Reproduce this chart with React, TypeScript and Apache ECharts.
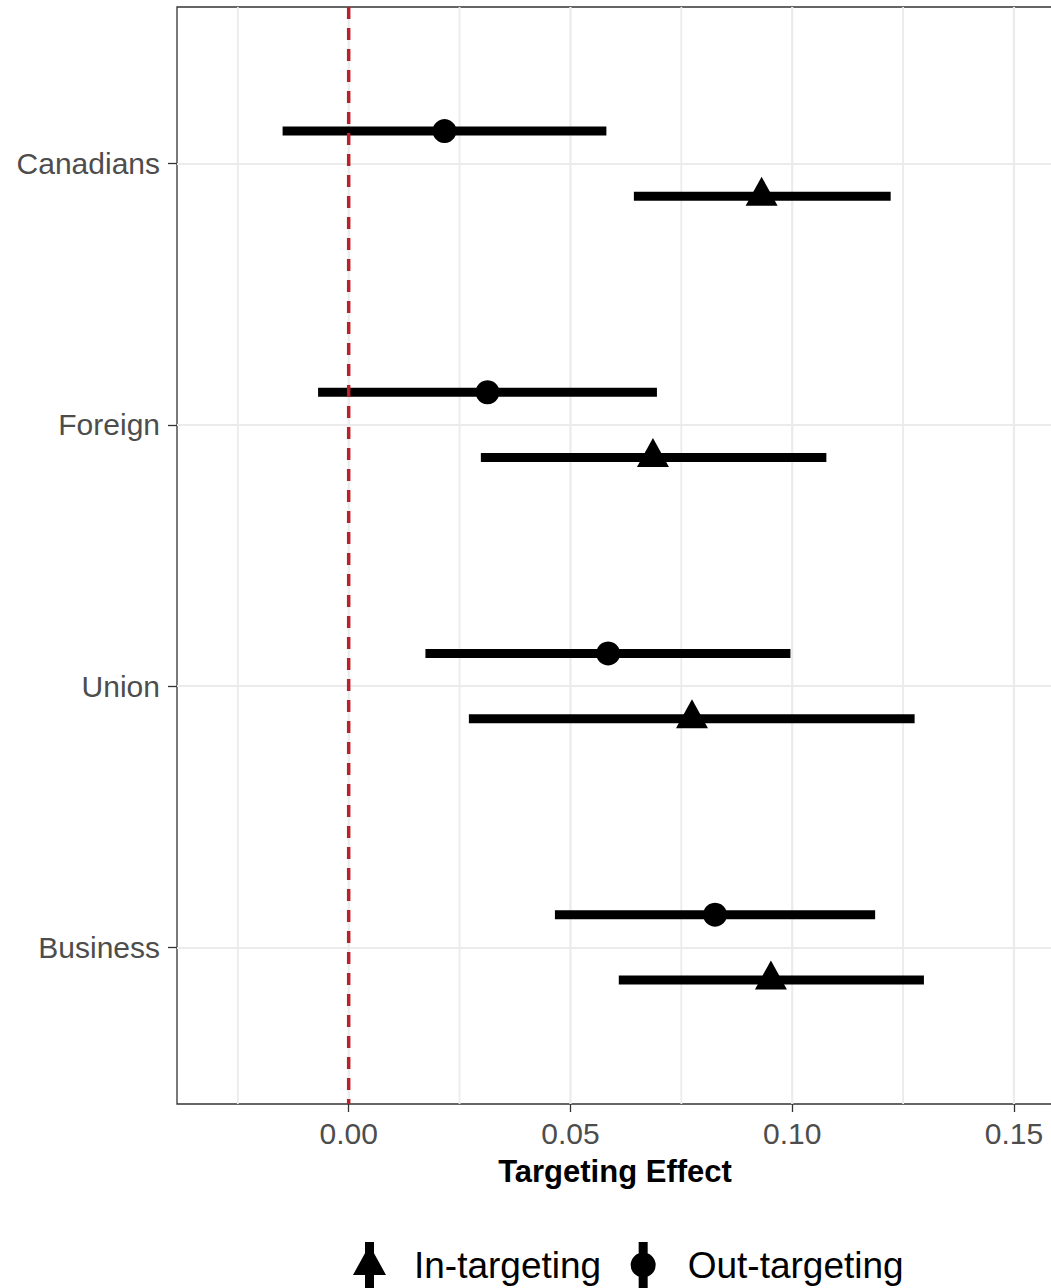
import React, { useEffect, useRef } from "react";
import * as echarts from "echarts";

const categories = ["Canadians", "Foreign", "Union", "Business"];
const catPos = [4, 3, 2, 1];
const outEst = [0.0216, 0.0313, 0.0585, 0.0826];
const outLow = [-0.0149, -0.0069, 0.0173, 0.0465];
const outHigh = [0.0581, 0.0695, 0.0996, 0.1187];
const inEst = [0.0931, 0.0686, 0.0774, 0.0952];
const inLow = [0.0643, 0.0298, 0.0271, 0.0609];
const inHigh = [0.1222, 0.1077, 0.1276, 0.1297];
const xTicks = [0, 0.05, 0.1, 0.15];
const xMinor = [-0.025, 0.025, 0.075, 0.125];
const refLine = [0];
const dodge = 0.125;

const X_MIN = -0.03871;
const X_MAX = 0.1588;
const Y_MIN = 0.4;
const Y_MAX = 4.6;
const FONT = "'Liberation Sans', Arial, Helvetica, sans-serif";

const triIcon = "path://M12 0 L21 0 L21 46 L12 46 Z M16.5 3 L33 33 L0 33 Z";
const circIcon =
  "path://M8 0 L17 0 L17 46 L8 46 Z M0 23 A12.5 12.5 0 1 1 25 23 A12.5 12.5 0 1 1 0 23 Z";

export default function App() {
  const ref = useRef<HTMLDivElement>(null);
  useEffect(() => {
    if (!ref.current) return;
    const chart = echarts.init(ref.current, null, { renderer: "svg" });
    const outBars = categories.map((_, i) => [outLow[i], outHigh[i], catPos[i] + dodge]);
    const inBars = categories.map((_, i) => [inLow[i], inHigh[i], catPos[i] - dodge]);
    const outPts = categories.map((_, i) => [outEst[i], catPos[i] + dodge]);
    const inPts = categories.map((_, i) => [inEst[i], catPos[i] - dodge]);
    const renderBar = (params: any, api: any) => {
      const y = api.value(2);
      const p1 = api.coord([api.value(0), y]);
      const p2 = api.coord([api.value(1), y]);
      return {
        type: "line",
        shape: { x1: p1[0], y1: p1[1], x2: p2[0], y2: p2[1] },
        style: { stroke: "#000", lineWidth: 9, lineCap: "butt" },
      };
    };
    const vLine = (stroke: string, width: number, dash?: number[]) => (params: any, api: any) => {
      const x = api.value(0);
      const p1 = api.coord([x, Y_MAX]);
      const p2 = api.coord([x, Y_MIN]);
      return {
        type: "line",
        shape: { x1: p1[0], y1: p1[1], x2: p2[0], y2: p2[1] },
        style: { stroke, lineWidth: width, lineDash: dash, lineCap: "butt" },
      };
    };
    const option: any = {
      animation: false,
      backgroundColor: "#fff",
      color: ["#000", "#000"],
      textStyle: { fontFamily: FONT },
      grid: {
        left: 177,
        top: 7,
        width: 876,
        height: 1097,
        show: true,
        borderColor: "#333333",
        borderWidth: 1.3,
        backgroundColor: "transparent",
      },
      xAxis: {
        type: "value",
        min: X_MIN,
        max: X_MAX,
        axisLine: { show: false, onZero: false },
        axisTick: {
          show: true,
          length: 8,
          customValues: xTicks,
          lineStyle: { color: "#333333", width: 1.3 },
        },
        axisLabel: {
          customValues: xTicks,
          formatter: (v: number) => v.toFixed(2),
          fontSize: 30,
          color: "#4D4D4D",
          margin: 14,
          fontFamily: FONT,
        },
        splitLine: { show: false },
        name: "Targeting Effect",
        nameLocation: "middle",
        nameGap: 52,
        nameTextStyle: { fontSize: 31, fontWeight: "bold", color: "#000", fontFamily: FONT },
      },
      yAxis: {
        type: "value",
        min: Y_MIN,
        max: Y_MAX,
        axisLine: { show: false, onZero: false },
        axisTick: {
          show: true,
          length: 9,
          customValues: catPos,
          lineStyle: { color: "#333333", width: 1.3 },
        },
        axisLabel: {
          customValues: catPos,
          formatter: (v: number) => {
            const i = catPos.indexOf(Math.round(v));
            return i >= 0 ? categories[i] : "";
          },
          fontSize: 30,
          color: "#4D4D4D",
          margin: 17,
          fontFamily: FONT,
        },
        splitLine: { show: true, lineStyle: { color: "#EBEBEB", width: 2.2 } },
      },
      legend: {
        left: 353,
        top: 1242,
        padding: 0,
        orient: "horizontal",
        itemWidth: 33,
        itemHeight: 46,
        itemGap: 29.5,
        symbolKeepAspect: true,
        selectedMode: false,
        textStyle: { fontSize: 37, color: "#000", fontFamily: FONT, padding: [0, 0, 0, 23] },
        data: [
          { name: "In-targeting", icon: triIcon },
          { name: "Out-targeting", icon: circIcon },
        ],
      },
      series: [
        {
          type: "custom",
          name: "grid-minor",
          renderItem: vLine("#EBEBEB", 1.8),
          data: xMinor.map((v) => [v]),
          encode: { x: 0 },
          silent: true,
          z: 0,
        },
        {
          type: "custom",
          name: "grid-major",
          renderItem: vLine("#EBEBEB", 2.2),
          data: xTicks.map((v) => [v]),
          encode: { x: 0 },
          silent: true,
          z: 0,
        },
        {
          type: "custom",
          name: "In-targeting",
          renderItem: renderBar,
          data: inBars,
          encode: { x: [0, 1], y: 2 },
          z: 2,
          itemStyle: { color: "#000" },
        },
        {
          type: "custom",
          name: "Out-targeting",
          renderItem: renderBar,
          data: outBars,
          encode: { x: [0, 1], y: 2 },
          z: 2,
          itemStyle: { color: "#000" },
        },
        {
          type: "scatter",
          name: "In-targeting",
          data: inPts,
          symbol: "triangle",
          symbolSize: [32, 29],
          symbolOffset: [0, -5],
          itemStyle: { color: "#000", opacity: 1 },
          z: 3,
        },
        {
          type: "scatter",
          name: "Out-targeting",
          data: outPts,
          symbol: "circle",
          symbolSize: 24,
          itemStyle: { color: "#000", opacity: 1 },
          z: 3,
        },
        {
          type: "custom",
          name: "ref-line",
          renderItem: vLine("#B8202A", 3.5, [12, 9]),
          data: refLine.map((v) => [v]),
          encode: { x: 0 },
          silent: true,
          z: 10,
        },
      ],
    };
    chart.setOption(option);
    return () => chart.dispose();
  }, []);
  return (
    <div
      style={{
        position: "fixed",
        left: 0,
        top: 0,
        width: 1051,
        height: 1288,
        overflow: "hidden",
        background: "#fff",
      }}
    >
      <div ref={ref} style={{ width: 1060, height: 1288 }} />
    </div>
  );
}
